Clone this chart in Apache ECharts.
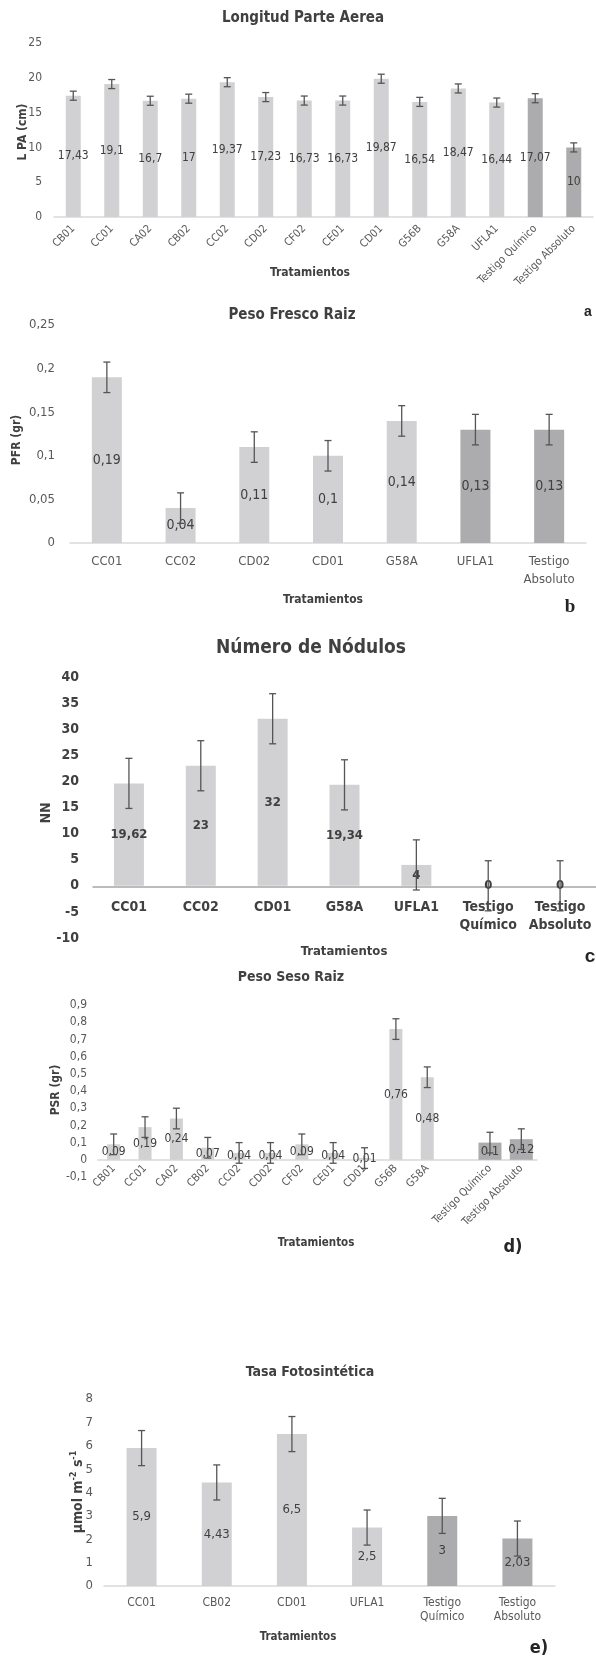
<!DOCTYPE html>
<html>
<head>
<meta charset="utf-8">
<script src="https://cdn.jsdelivr.net/npm/echarts@6/dist/echarts.min.js"></script>
<style>
html,body{margin:0;padding:0;background:#fff;}
#c{width:596px;height:1658px;}
</style>
</head>
<body>
<div id="c"></div>
<script>
// ---------- DATA ----------
const catA = ['CB01','CC01','CA02','CB02','CC02','CD02','CF02','CE01','CD01','G56B','G58A','UFLA1','Testigo Químico','Testigo Absoluto'];
const valA = [17.43,19.1,16.7,17,19.37,17.23,16.73,16.73,19.87,16.54,18.47,16.44,17.07,10];
const errA = [0.65,0.65,0.65,0.65,0.65,0.65,0.65,0.65,0.65,0.65,0.65,0.65,0.65,0.65];

const catB = ['CC01','CC02','CD02','CD01','G58A','UFLA1','Testigo\nAbsoluto'];
const valB = [0.19,0.04,0.11,0.1,0.14,0.13,0.13];
const errB = [0.0175,0.0175,0.0175,0.0175,0.0175,0.0175,0.0175];

const catC = ['CC01','CC02','CD01','G58A','UFLA1','Testigo\nQuímico','Testigo\nAbsoluto'];
const valC = [19.62,23,32,19.34,4,0,0];
const errC = [4.8,4.8,4.8,4.8,4.8,4.8,4.8];

const catD = ['CB01','CC01','CA02','CB02','CC02','CD02','CF02','CE01','CD01','G56B','G58A','','Testigo Químico','Testigo Absoluto'];
const valD = [0.09,0.19,0.24,0.07,0.04,0.04,0.09,0.04,0.01,0.76,0.48,null,0.1,0.12];
const errD = [0.06,0.06,0.06,0.06,0.06,0.06,0.06,0.06,0.06,0.06,0.06,null,0.06,0.06];

const catE = ['CC01','CB02','CD01','UFLA1','Testigo\nQuímico','Testigo\nAbsoluto'];
const valE = [5.9,4.43,6.5,2.5,3,2.03];
const errE = [0.75,0.75,0.75,0.75,0.75,0.75];

// ---------- STYLE ----------
const FF = "'Liberation Sans Narrow','Arial Narrow','DejaVu Sans Condensed',sans-serif";
const LIGHT = '#d1d1d3';
const DARK = '#acacae';
const TXT = '#595959';
const LBL = '#404040';
const comma = v => String(+(+v).toFixed(4)).replace('.', ',');

function colorFn(darkIdx){
  return p => darkIdx.indexOf(p.dataIndex) >= 0 ? DARK : LIGHT;
}

function errSeries(ai, vals, errs){
  const data = [];
  vals.forEach((v,i)=>{ if(v!=null) data.push([i, v-errs[i], v+errs[i]]); });
  return {
    type:'custom', xAxisIndex:ai, yAxisIndex:ai, silent:true, z:10,
    encode:{x:0, y:[1,2]},
    data:data,
    renderItem:(params, api)=>{
      const x = api.value(0);
      const lo = api.coord([x, api.value(1)]);
      const hi = api.coord([x, api.value(2)]);
      const hw = 3.5;
      const st = {stroke:'#555555', lineWidth:1.3};
      return {type:'group', children:[
        {type:'line', shape:{x1:lo[0],y1:lo[1],x2:hi[0],y2:hi[1]}, style:st},
        {type:'line', shape:{x1:hi[0]-hw,y1:hi[1],x2:hi[0]+hw,y2:hi[1]}, style:st},
        {type:'line', shape:{x1:lo[0]-hw,y1:lo[1],x2:lo[0]+hw,y2:lo[1]}, style:st}
      ]};
    }
  };
}

function barSeries(ai, vals, darkIdx, bw, lblSize, bold){
  return {
    type:'bar', xAxisIndex:ai, yAxisIndex:ai, barWidth:bw,
    data: vals,
    itemStyle:{color: colorFn(darkIdx)},
    label:{show:true, position:'inside', color:LBL, fontFamily:FF, fontSize:lblSize,
      fontWeight: bold?'bold':'normal', formatter:p=>comma(p.value)},
    z:2
  };
}

function xAx(gi, cats, opt){
  return Object.assign({
    type:'category', gridIndex:gi, data:cats,
    axisTick:{show:false},
    axisLine:{lineStyle:{color:'#d9d9d9', width:1.5}},
    axisLabel:{color:TXT, fontFamily:FF, fontSize:12, interval:0}
  }, opt);
}
function yAx(gi, min, max, itv, opt){
  return Object.assign({
    type:'value', gridIndex:gi, min:min, max:max, interval:itv,
    splitLine:{show:false}, axisLine:{show:false}, axisTick:{show:false},
    axisLabel:{color:TXT, fontFamily:FF, fontSize:12, formatter:v=>comma(v)}
  }, opt);
}

function txt(x, y, text, size, bold, extra){
  return Object.assign({
    type:'text', x:x, y:y, silent:true,
    style:{text:text, fill:LBL, fontFamily:FF, fontSize:size, fontWeight:bold?'bold':'normal',
      align:'center', verticalAlign:'middle'}
  }, extra||{});
}
function letter(x, y, text, family, size){
  return {type:'text', x:x, y:y, silent:true,
    style:{text:text, fill:'#262626', fontFamily:family, fontSize:size, fontWeight:'bold', align:'center', verticalAlign:'middle'}};
}
function title(x, y, text, size){
  return {text:text, left:x, top:y, textAlign:'center', textVerticalAlign:'middle', padding:0,
    textStyle:{fontFamily:FF, fontSize:size, fontWeight:'bold', color:LBL}};
}

const chart = echarts.init(document.getElementById('c'), null, {renderer:'canvas'});

const option = {
  animation:false,
  backgroundColor:'#fff',
  title:[
    title(303, 18, 'Longitud Parte Aerea', 15),
    title(292, 315, 'Peso Fresco Raiz', 15),
    title(311, 648, 'Número de Nódulos', 19),
    title(291, 977, 'Peso Seso Raiz', 14),
    title(310, 1372, 'Tasa Fotosintética', 14)
  ],
  grid:[
    {left:54, top:43, width:539, height:174},
    {left:70, top:325, width:516, height:218},
    {left:93, top:677, width:514, height:261},
    {left:98, top:1005, width:439, height:172},
    {left:104, top:1399, width:451, height:187},
    {left:98, top:1005, width:439, height:172}
  ],
  xAxis:[
    xAx(0, catA, {axisLabel:{color:TXT, fontFamily:FF, fontSize:11, interval:0, rotate:45, margin:10}}),
    xAx(1, catB, {axisLabel:{color:TXT, fontFamily:FF, fontSize:13, interval:0, margin:10, lineHeight:18}}),
    xAx(2, catC, {offset:-51, axisLine:{onZero:false, lineStyle:{color:'#a6a6a6', width:1.5}},
      axisLabel:{color:LBL, fontFamily:FF, fontSize:14, fontWeight:'bold', interval:0, margin:11, lineHeight:18}}),
    xAx(3, catD, {offset:-17.2, axisLine:{onZero:false, lineStyle:{color:'#d9d9d9', width:1.5}},
      axisLabel:{color:TXT, fontFamily:FF, fontSize:11, interval:0, rotate:45, margin:7}}),
    xAx(4, catE, {axisLabel:{color:TXT, fontFamily:FF, fontSize:12, interval:0, margin:10, lineHeight:14}}),
    xAx(5, catD, {show:false})
  ],
  yAxis:[
    yAx(0, 0, 25, 5, {axisLabel:{color:TXT, fontFamily:FF, fontSize:12, margin:12}}),
    yAx(1, 0, 0.25, 0.05, {axisLabel:{color:TXT, fontFamily:FF, fontSize:13, margin:15, formatter:v=>comma(v)}}),
    yAx(2, -10, 40, 5, {axisLabel:{color:LBL, fontFamily:FF, fontSize:14, fontWeight:'bold', margin:14}}),
    yAx(3, -0.1, 0.9, 0.1, {axisLabel:{color:TXT, fontFamily:FF, fontSize:12, margin:11, formatter:v=>comma(v)}}),
    yAx(4, 0, 8, 1, {axisLabel:{color:TXT, fontFamily:FF, fontSize:13, margin:11}}),
    yAx(5, -0.1, 0.9, 0.1, {show:false})
  ],
  series:[
    barSeries(0, valA, [12,13], 15, 12, false),
    errSeries(0, valA, errA),
    barSeries(1, valB, [5,6], 30, 14, false),
    errSeries(1, valB, errB),
    barSeries(2, valC, [], 30, 13, true),
    errSeries(2, valC, errC),
    barSeries(3, valD.map((v,i)=> i<11 ? v : null), [], 13, 12, false),
    barSeries(5, valD.map((v,i)=> i>11 ? v : null), [12,13], 23, 13, false),
    errSeries(3, valD, errD),
    barSeries(4, valE, [4,5], 30, 13, false),
    errSeries(4, valE, errE)
  ],
  graphic:[
    txt(310, 273, 'Tratamientos', 12, true),
    txt(323, 600, 'Tratamientos', 12, true),
    txt(344, 952, 'Tratamientos', 13, true),
    txt(316, 1243, 'Tratamientos', 11.5, true),
    txt(298, 1637, 'Tratamientos', 11.5, true),
    txt(23, 132, 'L PA (cm)', 12, true, {rotation:Math.PI/2}),
    txt(17, 440, 'PFR (gr)', 12, true, {rotation:Math.PI/2}),
    txt(46, 813, 'NN', 14, true, {rotation:Math.PI/2}),
    txt(56, 1090, 'PSR (gr)', 12, true, {rotation:Math.PI/2}),
    {type:'text', x:77, y:1492, rotation:Math.PI/2, silent:true,
      style:{text:'{a|µmol m}{s|-2}{a| s}{s|-1}', align:'center', verticalAlign:'middle',
        rich:{
          a:{fontFamily:FF, fontSize:14, fontWeight:'bold', fill:LBL, color:LBL, lineHeight:16, verticalAlign:'bottom'},
          s:{fontFamily:FF, fontSize:9, fontWeight:'bold', fill:LBL, color:LBL, lineHeight:16, verticalAlign:'top'}
        }}},
    letter(588, 312, 'a', "'Liberation Sans',sans-serif", 14),
    letter(570, 607, 'b', "'Liberation Serif',serif", 19),
    letter(590, 957, 'c', "'Liberation Sans',sans-serif", 19),
    letter(513, 1247, 'd)', FF, 18),
    letter(539, 1648, 'e)', FF, 18)
  ]
};
chart.setOption(option);
</script>
</body>
</html>
